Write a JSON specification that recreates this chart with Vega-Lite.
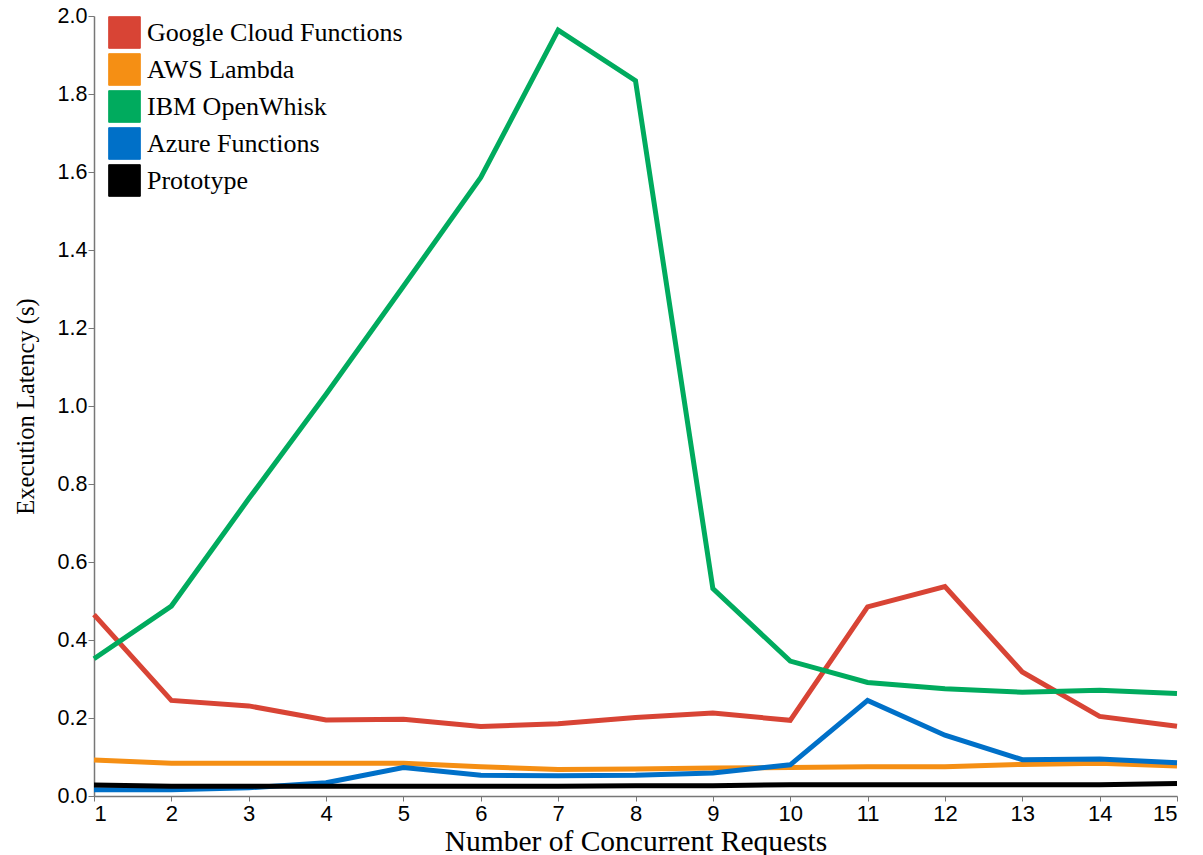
{
  "$schema": "https://vega.github.io/schema/vega-lite/v6.json",
  "width": 1083,
  "height": 780,
  "autosize": {"type": "none"},
  "padding": {"left": 94, "top": 16, "right": 26, "bottom": 59},
  "background": "white",
  "config": {"view": {"stroke": null}},
  "data": {
    "values": [
      {"n": 1, "s": "Google Cloud Functions", "v": 0.465},
      {"n": 2, "s": "Google Cloud Functions", "v": 0.245},
      {"n": 3, "s": "Google Cloud Functions", "v": 0.231},
      {"n": 4, "s": "Google Cloud Functions", "v": 0.195},
      {"n": 5, "s": "Google Cloud Functions", "v": 0.197},
      {"n": 6, "s": "Google Cloud Functions", "v": 0.178},
      {"n": 7, "s": "Google Cloud Functions", "v": 0.185},
      {"n": 8, "s": "Google Cloud Functions", "v": 0.201},
      {"n": 9, "s": "Google Cloud Functions", "v": 0.213},
      {"n": 10, "s": "Google Cloud Functions", "v": 0.194},
      {"n": 11, "s": "Google Cloud Functions", "v": 0.485},
      {"n": 12, "s": "Google Cloud Functions", "v": 0.537},
      {"n": 13, "s": "Google Cloud Functions", "v": 0.318},
      {"n": 14, "s": "Google Cloud Functions", "v": 0.204},
      {"n": 15, "s": "Google Cloud Functions", "v": 0.179},
      {"n": 1, "s": "AWS Lambda", "v": 0.092},
      {"n": 2, "s": "AWS Lambda", "v": 0.084},
      {"n": 3, "s": "AWS Lambda", "v": 0.084},
      {"n": 4, "s": "AWS Lambda", "v": 0.084},
      {"n": 5, "s": "AWS Lambda", "v": 0.084},
      {"n": 6, "s": "AWS Lambda", "v": 0.075},
      {"n": 7, "s": "AWS Lambda", "v": 0.068},
      {"n": 8, "s": "AWS Lambda", "v": 0.069},
      {"n": 9, "s": "AWS Lambda", "v": 0.072},
      {"n": 10, "s": "AWS Lambda", "v": 0.073},
      {"n": 11, "s": "AWS Lambda", "v": 0.075},
      {"n": 12, "s": "AWS Lambda", "v": 0.075},
      {"n": 13, "s": "AWS Lambda", "v": 0.081},
      {"n": 14, "s": "AWS Lambda", "v": 0.084},
      {"n": 15, "s": "AWS Lambda", "v": 0.077},
      {"n": 1, "s": "IBM OpenWhisk", "v": 0.352},
      {"n": 2, "s": "IBM OpenWhisk", "v": 0.487},
      {"n": 3, "s": "IBM OpenWhisk", "v": 0.762},
      {"n": 4, "s": "IBM OpenWhisk", "v": 1.03},
      {"n": 5, "s": "IBM OpenWhisk", "v": 1.307},
      {"n": 6, "s": "IBM OpenWhisk", "v": 1.586},
      {"n": 7, "s": "IBM OpenWhisk", "v": 1.964},
      {"n": 8, "s": "IBM OpenWhisk", "v": 1.834},
      {"n": 9, "s": "IBM OpenWhisk", "v": 0.532},
      {"n": 10, "s": "IBM OpenWhisk", "v": 0.346},
      {"n": 11, "s": "IBM OpenWhisk", "v": 0.291},
      {"n": 12, "s": "IBM OpenWhisk", "v": 0.275},
      {"n": 13, "s": "IBM OpenWhisk", "v": 0.266},
      {"n": 14, "s": "IBM OpenWhisk", "v": 0.271},
      {"n": 15, "s": "IBM OpenWhisk", "v": 0.263},
      {"n": 1, "s": "Azure Functions", "v": 0.016},
      {"n": 2, "s": "Azure Functions", "v": 0.016},
      {"n": 3, "s": "Azure Functions", "v": 0.021},
      {"n": 4, "s": "Azure Functions", "v": 0.034},
      {"n": 5, "s": "Azure Functions", "v": 0.073},
      {"n": 6, "s": "Azure Functions", "v": 0.053},
      {"n": 7, "s": "Azure Functions", "v": 0.052},
      {"n": 8, "s": "Azure Functions", "v": 0.053},
      {"n": 9, "s": "Azure Functions", "v": 0.059},
      {"n": 10, "s": "Azure Functions", "v": 0.08},
      {"n": 11, "s": "Azure Functions", "v": 0.245},
      {"n": 12, "s": "Azure Functions", "v": 0.156},
      {"n": 13, "s": "Azure Functions", "v": 0.093},
      {"n": 14, "s": "Azure Functions", "v": 0.095},
      {"n": 15, "s": "Azure Functions", "v": 0.085},
      {"n": 1, "s": "Prototype", "v": 0.028},
      {"n": 2, "s": "Prototype", "v": 0.025},
      {"n": 3, "s": "Prototype", "v": 0.025},
      {"n": 4, "s": "Prototype", "v": 0.025},
      {"n": 5, "s": "Prototype", "v": 0.025},
      {"n": 6, "s": "Prototype", "v": 0.025},
      {"n": 7, "s": "Prototype", "v": 0.025},
      {"n": 8, "s": "Prototype", "v": 0.026},
      {"n": 9, "s": "Prototype", "v": 0.026},
      {"n": 10, "s": "Prototype", "v": 0.029},
      {"n": 11, "s": "Prototype", "v": 0.029},
      {"n": 12, "s": "Prototype", "v": 0.029},
      {"n": 13, "s": "Prototype", "v": 0.029},
      {"n": 14, "s": "Prototype", "v": 0.029},
      {"n": 15, "s": "Prototype", "v": 0.032}
    ]
  },
  "mark": {"type": "line", "strokeWidth": 5, "strokeJoin": "miter", "strokeCap": "butt"},
  "encoding": {
    "x": {
      "field": "n", "type": "quantitative",
      "scale": {"domain": [1, 15], "nice": false, "zero": false},
      "axis": {
        "title": "Number of Concurrent Requests",
        "titleFont": "Liberation Serif", "titleFontSize": 29.5, "titleFontWeight": "normal", "titleColor": "black",
        "titlePadding": 3,
        "values": [1,2,3,4,5,6,7,8,9,10,11,12,13,14,15],
        "labelFont": "Liberation Sans", "labelFontSize": 22, "labelColor": "black",
        "labelPadding": 2,
        "grid": false, "domainColor": "#777", "tickColor": "#777", "tickSize": 5, "domainWidth": 1.5
      }
    },
    "y": {
      "field": "v", "type": "quantitative",
      "scale": {"domain": [0, 2], "nice": false},
      "axis": {
        "title": "Execution Latency (s)",
        "titleFont": "Liberation Serif", "titleFontSize": 24.5, "titleFontWeight": "normal", "titleColor": "black",
        "titlePadding": 19,
        "values": [0, 0.2, 0.4, 0.6, 0.8, 1.0, 1.2, 1.4, 1.6, 1.8, 2.0],
        "format": ".1f",
        "labelFont": "Liberation Sans", "labelFontSize": 21.5, "labelColor": "black",
        "labelPadding": 1,
        "grid": false, "domainColor": "#777", "tickColor": "#777", "tickSize": 6, "domainWidth": 1.5
      }
    },
    "color": {
      "field": "s", "type": "nominal",
      "scale": {
        "domain": ["Google Cloud Functions", "AWS Lambda", "IBM OpenWhisk", "Azure Functions", "Prototype"],
        "range": ["#d84435", "#f58f14", "#00ab5e", "#0070c8", "#000000"]
      },
      "legend": {
        "title": null,
        "orient": "none", "legendX": 14, "legendY": 0,
        "symbolType": "square", "symbolSize": 1000, "symbolStrokeWidth": 1,
        "symbolOpacity": 1,
        "labelFont": "Liberation Serif", "labelFontSize": 26, "labelColor": "black",
        "labelOffset": 6, "rowPadding": 0, "labelLimit": 400,
        "encode": {
          "symbols": {
            "update": {
              "fill": {"scale": "color", "field": "value"},
              "fillOpacity": {"value": 1},
              "stroke": {"value": "#cccccc"},
              "strokeWidth": {"value": 1}
            }
          }
        }
      }
    }
  }
}
